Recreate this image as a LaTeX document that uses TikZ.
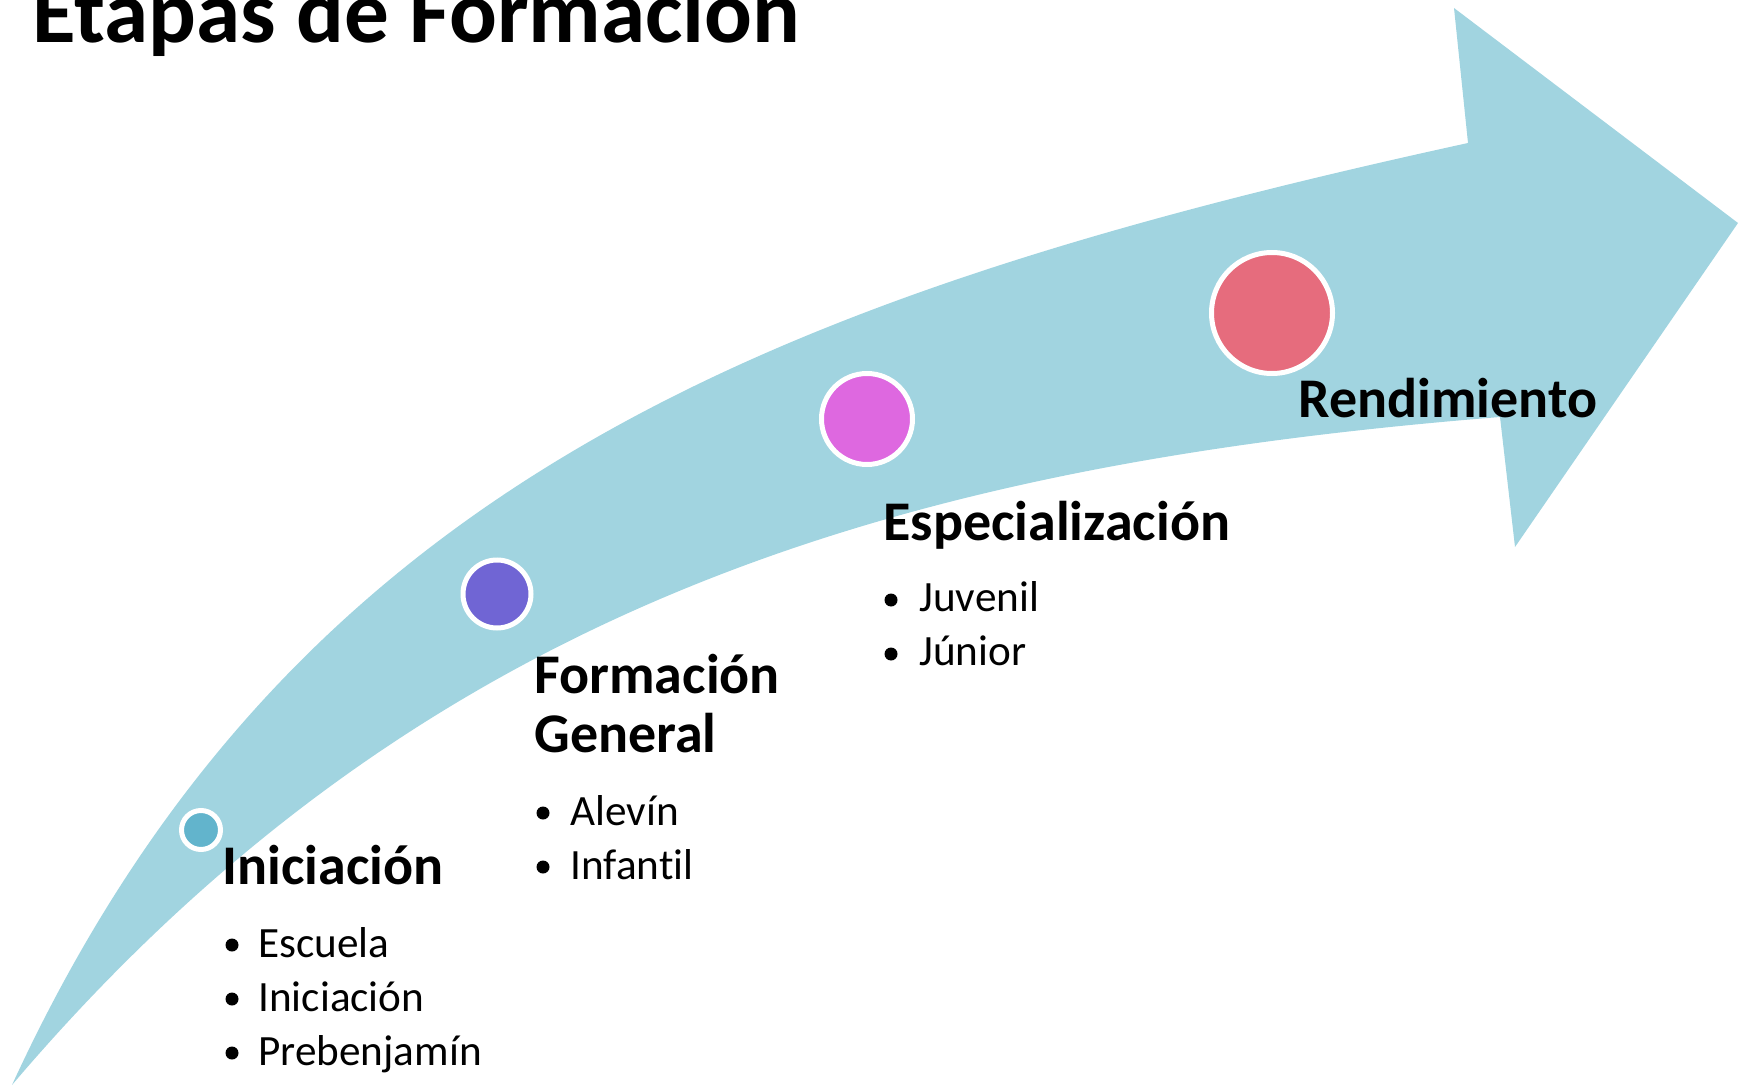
\documentclass[tikz,border=0pt]{standalone}
\usepackage{fontspec}
\setmainfont{Carlito}[Ligatures=NoCommon]
\definecolor{band}{RGB}{161,212,224}
\definecolor{stageA}{RGB}{98,180,204}
\definecolor{stageB}{RGB}{112,101,212}
\definecolor{stageC}{RGB}{222,104,224}
\definecolor{stageD}{RGB}{230,108,125}
\begin{document}
\begin{tikzpicture}[x=0.5pt,y=-0.5pt,
    head/.style={anchor=base west,inner sep=0pt,font=\fontsize{28}{33}\selectfont\bfseries},
    item/.style={anchor=base west,inner sep=0pt,font=\fontsize{21.6}{26}\selectfont},
    stage/.style={circle,draw=white,line width=2.5pt,inner sep=0pt}]
    \useasboundingbox (0,0) rectangle (1747,1086);

    % curved arrow
    \fill[band] (12,1085) .. controls (288,485) and (768,296) .. (1468,143)
        -- (1454,8) -- (1738,223) -- (1515,547) -- (1500,417)
        .. controls (900,465) and (420,605) .. (12,1085) -- cycle;

    % title
    \node[anchor=base west,inner sep=0pt,font=\fontsize{44.6}{53}\selectfont\bfseries]
        (title) at (32,43) {Etapas de Formación};

    % stages
    \node[stage,fill=stageA,minimum size=19.5pt] (s1) at (201,830) {};
    \node[stage,fill=stageB,minimum size=34pt] (s2) at (497,594) {};
    \node[stage,fill=stageC,minimum size=45.5pt] (s3) at (867,419) {};
    \node[stage,fill=stageD,minimum size=60.5pt] (s4) at (1272,313) {};

    % texts
    \node[head] (ini) at (222,884) {Iniciación};
    \foreach \t [count=\i] in {Escuela,Iniciación,Prebenjamín}{
        \fill (232,{891+54*\i}) circle (6.5);
        \node[item] (ini\i) at (258,{903+54*\i}) {\t};
    }

    \node[head] (form) at (534,693) {Formación};
    \node[head] (gen) at (534,752) {General};
    \foreach \t [count=\i] in {Alevín,Infantil}{
        \fill (543,{759+54*\i}) circle (6.5);
        \node[item] (gen\i) at (570,{771+54*\i}) {\t};
    }

    \node[head] (esp) at (883,540) {Especialización};
    \foreach \t [count=\i] in {Juvenil,Júnior}{
        \fill (891,{546+54*\i}) circle (6.5);
        \node[item] (esp\i) at (919,{557+54*\i}) {\t};
    }

    \node[head] (ren) at (1298,417) {Rendimiento};
\end{tikzpicture}
\end{document}
